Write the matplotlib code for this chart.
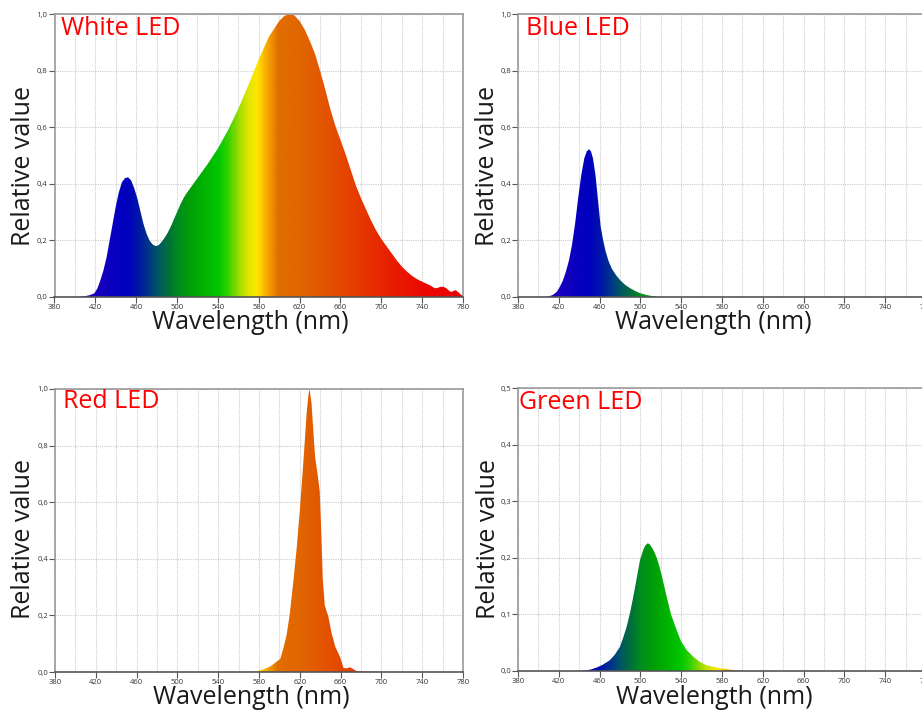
import numpy as np
import matplotlib
matplotlib.use("Agg")
import matplotlib.pyplot as plt
from matplotlib.colors import LinearSegmentedColormap
from matplotlib.patches import Polygon
from matplotlib.ticker import FuncFormatter

plt.rcParams['font.family'] = ['Open Sans', 'DejaVu Sans']

# ---------------- data ----------------
white_wl = [400, 405, 410, 414, 417, 419, 422, 425, 428, 431, 434, 437, 440, 443, 446, 449, 452,
            455, 458, 461, 464, 467, 470, 473, 476, 479, 482, 485, 488, 491, 494, 497, 500, 503,
            506, 509, 512, 516, 520, 530, 540, 550, 560, 570, 580, 590, 600, 605, 610, 615, 620,
            625, 630, 635, 640, 645, 650, 655, 660, 665, 670, 675, 680, 685, 690, 695, 700, 705,
            710, 715, 720, 725, 730, 735, 740, 745, 749, 752, 755, 758, 761, 764, 767, 769, 771,
            773, 776, 778, 780]
white_val = [0.0, 0.001, 0.003, 0.006, 0.01, 0.013, 0.03, 0.06, 0.095, 0.14, 0.2, 0.26, 0.32, 0.37,
             0.405, 0.42, 0.423, 0.412, 0.385, 0.35, 0.305, 0.26, 0.225, 0.2, 0.186, 0.18, 0.183,
             0.195, 0.21, 0.228, 0.25, 0.275, 0.3, 0.325, 0.347, 0.365, 0.38, 0.4, 0.42, 0.47,
             0.525, 0.59, 0.665, 0.75, 0.84, 0.92, 0.975, 0.993, 1.0, 0.995, 0.975, 0.945, 0.905,
             0.86, 0.8, 0.735, 0.665, 0.605, 0.555, 0.505, 0.45, 0.395, 0.35, 0.31, 0.27, 0.235,
             0.205, 0.18, 0.155, 0.13, 0.108, 0.09, 0.075, 0.063, 0.054, 0.046, 0.039, 0.031, 0.032,
             0.036, 0.036, 0.03, 0.02, 0.018, 0.022, 0.024, 0.015, 0.008, 0.004]

blue_wl = [405, 410, 414, 418, 421, 424, 427, 430, 433, 436, 439, 442, 445, 447.5, 449.6, 451.5,
           453.5, 456, 458.5, 461, 463.5, 466, 469, 472, 476, 480, 485, 490, 495, 500, 506, 512, 520]
blue_val = [0.0, 0.002, 0.007, 0.018, 0.036, 0.058, 0.09, 0.13, 0.185, 0.26, 0.35, 0.43, 0.49, 0.515,
            0.522, 0.515, 0.49, 0.43, 0.34, 0.25, 0.2, 0.16, 0.125, 0.1, 0.078, 0.06, 0.043, 0.031,
            0.021, 0.013, 0.007, 0.003, 0.0]

red_wl = [570, 577.7, 584, 590.8, 596, 600.8, 604, 607, 610, 613.7, 617, 620, 623.4, 626.7, 628.5,
          629.5, 631.5, 633.2, 635, 637.4, 639.5, 641, 642.5, 644.5, 648, 651, 654.7, 659.6, 662.9,
          666, 669.3, 672, 675.8, 690, 700]
red_val = [0.0, 0.003, 0.009, 0.019, 0.033, 0.046, 0.085, 0.13, 0.2, 0.32, 0.44, 0.57, 0.737, 0.914,
           0.98, 1.0, 0.95, 0.855, 0.76, 0.70, 0.64, 0.50, 0.33, 0.235, 0.196, 0.14, 0.09, 0.052,
           0.014, 0.013, 0.017, 0.011, 0.003, 0.001, 0.0]

green_wl = [440, 447, 452, 457, 463, 470, 475, 480, 483, 486.5, 490, 493, 496.5, 499.6, 503, 505,
            507.2, 509, 511, 513.5, 516, 518.5, 521, 525.8, 530, 535.6, 540, 545.4, 552, 558.4, 565,
            578, 590, 600]
green_val = [0.0, 0.001, 0.003, 0.006, 0.011, 0.019, 0.029, 0.043, 0.058, 0.078, 0.104, 0.131, 0.165,
             0.196, 0.215, 0.222, 0.2256, 0.224, 0.219, 0.211, 0.2, 0.186, 0.168, 0.131, 0.10, 0.072,
             0.052, 0.037, 0.025, 0.016, 0.01, 0.005, 0.002, 0.0]

panel_titles = ["White LED", "Blue LED", "Red LED", "Green LED"]
x_ticks = [380, 420, 460, 500, 540, 580, 620, 660, 700, 740, 780]

# spectrum colours (wavelength anchors -> RGB)
spec_wl = [380, 400, 420, 440, 450, 460, 470, 480, 490, 500, 510, 525, 540, 550, 560, 570, 578,
           585, 593, 598, 620, 650, 680, 710, 740, 780]
spec_rgb = [(50, 0, 170), (40, 0, 180), (25, 0, 190), (5, 0, 190), (0, 0, 190), (0, 20, 170),
            (0, 50, 140), (0, 85, 100), (0, 110, 60), (0, 140, 30), (0, 155, 10), (0, 178, 0),
            (0, 200, 0), (60, 210, 0), (160, 222, 0), (230, 230, 0), (255, 230, 0), (250, 180, 0),
            (238, 140, 0), (225, 110, 0), (225, 102, 0), (228, 80, 0), (230, 55, 0), (232, 30, 0),
            (235, 8, 0), (235, 0, 0)]

cmap = LinearSegmentedColormap.from_list(
    "spec", [((w - 380) / 400.0, tuple(c / 255.0 for c in rgb)) for w, rgb in zip(spec_wl, spec_rgb)])

W, H = 922, 710
fig = plt.figure(figsize=(W / 100, H / 100), dpi=100)


def px_axes(l, r, t, b):
    return fig.add_axes([l / W, 1 - b / H, (r - l) / W, (b - t) / H])


def comma_fmt(v, pos):
    return ("%.1f" % v).replace(".", ",")


def draw_panel(ax, wl, val, ymax, ystep, title, tpos):
    ax.set_xlim(380, 780)
    ax.set_ylim(0, ymax)
    xs = np.linspace(380, 780, 801)
    img = cmap((xs - 380) / 400.0)[None, :, :]
    im = ax.imshow(img, extent=[380, 780, 0, ymax], aspect='auto', origin='lower',
                   interpolation='bilinear', zorder=2)
    verts = np.column_stack([np.r_[wl[0], wl, wl[-1]], np.r_[0, val, 0]])
    patch = Polygon(verts, closed=True, facecolor='none', edgecolor='none')
    ax.add_patch(patch)
    im.set_clip_path(patch)
    ax.set_xticks(x_ticks)
    ax.set_xticks(np.arange(380, 781, 20), minor=True)
    ax.set_yticks(np.arange(0, ymax + 1e-9, ystep))
    ax.yaxis.set_major_formatter(FuncFormatter(comma_fmt))
    ax.grid(True, which='both', color='#cccccc', linestyle=(0, (1, 1)), linewidth=0.8, zorder=1)
    ax.set_axisbelow(True)
    ax.tick_params(which='major', length=4, width=0.8, color='#555555', labelsize=5.5,
                   labelcolor='#333333', pad=1)
    ax.tick_params(which='minor', length=0)
    ax.tick_params(axis='x', pad=1)
    for s in ['top', 'right', 'left']:
        ax.spines[s].set_color('#999999')
        ax.spines[s].set_linewidth(1.2)
    ax.spines['bottom'].set_color('#555555')
    ax.spines['bottom'].set_linewidth(1.2)
    ax.text(tpos[0], tpos[1], title, transform=ax.transAxes, color='#ff0000', fontsize=18,
            ha='left', va='baseline', zorder=5)


axes_px = [(54.5, 463, 14, 297), (518, 926, 14, 297), (55, 463, 389, 672), (518, 926, 388, 671)]
series = [(white_wl, white_val, 1.0, 0.2), (blue_wl, blue_val, 1.0, 0.2),
          (red_wl, red_val, 1.0, 0.2), (green_wl, green_val, 0.5, 0.1)]
title_px = [(61, 35), (526, 35), (63, 408), (519, 409)]
xlabel_px = [(250, 329), (713, 329), (251, 704), (714, 704)]
ylabel_px = [(24, 166), (487, 166), (24, 539), (488, 539)]

for (l, r, t, b), (wl, val, ymax, ystep), title, tp in zip(axes_px, series, panel_titles, title_px):
    ax = px_axes(l, r, t, b)
    tx = (tp[0] - l) / (r - l)
    ty = (b - tp[1]) / (b - t)
    draw_panel(ax, wl, val, ymax, ystep, title, (tx, ty))

for (x, y) in xlabel_px:
    fig.text(x / W, 1 - y / H, "Wavelength (nm)", fontsize=18, ha='center', va='baseline',
             color='#1a1a1a')
for (x, y) in ylabel_px:
    fig.text(x / W, 1 - y / H, "Relative value", fontsize=18, ha='center', va='center',
             rotation=90, color='#1a1a1a')

fig.savefig("out.png", dpi=100)
